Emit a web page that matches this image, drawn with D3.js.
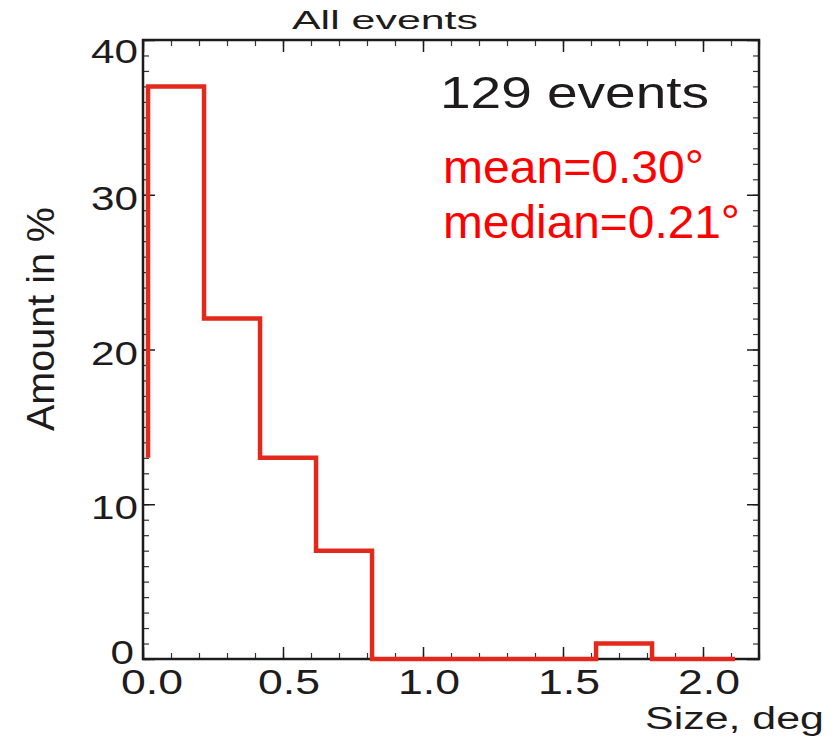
<!DOCTYPE html>
<html>
<head>
<meta charset="utf-8">
<script src="https://cdn.jsdelivr.net/npm/d3@7"></script>
<style>
  html, body { margin: 0; padding: 0; background: #fff; }
  svg { display: block; font-family: "Liberation Sans", Arial, Helvetica, sans-serif; }
</style>
</head>
<body>
<svg width="834" height="737"></svg>
<script>
// histogram values (percent of events)
const binEdges = [0.018, 0.218, 0.418, 0.618, 0.818, 1.018, 1.218, 1.418, 1.618, 1.818, 2.018, 2.114];
const binValues = [37, 22, 13, 7, 0, 0, 0, 0, 1, 0, 0];
const entryValue = 13;

const xTicks = [0, 0.5, 1.0, 1.5, 2.0];
const xTickLabels = ['0.0', '0.5', '1.0', '1.5', '2.0'];
const yTicks = [0, 10, 20, 30, 40];
const yTickLabels = ['0', '10', '20', '30', '40'];

const titleText = 'All events';
const countText = '129 events';
const statLines = ['mean=0.30\u00B0', 'median=0.21\u00B0'];

const ink = '#1e1b1c';
const red = '#e2291c';

const svg = d3.select('svg');

const x = d3.scaleLinear().domain([0, 2.2]).range([143, 759]);
const y = d3.scaleLinear().domain([0, 40]).range([659, 40]);

const minorX = d3.range(0, 23).map(i => i / 10);
const minorY = d3.range(0, 41);

// ticks, all pointing inward
const tickAxes = [
    [d3.axisBottom(x), `translate(0,${y(0)})`, minorX],
    [d3.axisTop(x), `translate(0,${y(40)})`, minorX],
];
const tickAxesY = [
    [d3.axisLeft(y), `translate(${x(0)},0)`],
    [d3.axisRight(y), `translate(${x(2.2)},0)`],
];

tickAxes.forEach(([ax, tr, vals]) => {
    const g1 = svg.append('g').attr('transform', tr)
        .call(ax.tickValues(vals).tickSize(-6).tickFormat(''));
    g1.select('.domain').remove();
    g1.selectAll('line').attr('stroke', '#333').attr('stroke-width', 1.2);
    const g2 = svg.append('g').attr('transform', tr)
        .call(ax.tickValues(xTicks).tickSize(-12).tickFormat(''));
    g2.select('.domain').remove();
    g2.selectAll('line').attr('stroke', ink).attr('stroke-width', 1.5);
});
tickAxesY.forEach(([ax, tr]) => {
    const g1 = svg.append('g').attr('transform', tr)
        .call(ax.tickValues(minorY).tickSize(-6).tickFormat(''));
    g1.select('.domain').remove();
    g1.selectAll('line').attr('stroke', '#333').attr('stroke-width', 1.2);
    const g2 = svg.append('g').attr('transform', tr)
        .call(ax.tickValues(yTicks).tickSize(-12).tickFormat(''));
    g2.select('.domain').remove();
    g2.selectAll('line').attr('stroke', ink).attr('stroke-width', 1.5);
});

// frame
svg.append('rect')
    .attr('x', x(0)).attr('y', y(40))
    .attr('width', x(2.2) - x(0)).attr('height', y(0) - y(40))
    .attr('fill', 'none').attr('stroke', ink).attr('stroke-width', 2.5);

// histogram outline
const pts = [[binEdges[0], entryValue]];
binValues.forEach((v, i) => pts.push([binEdges[i], v]));
pts.push([binEdges[binEdges.length - 1], binValues[binValues.length - 1]]);

const line = d3.line()
    .x(d => x(d[0]))
    .y(d => y(d[1]))
    .curve(d3.curveStepAfter);

svg.append('path')
    .datum(pts)
    .attr('d', line)
    .attr('fill', 'none')
    .attr('stroke', red)
    .attr('stroke-width', 4.5)
    .attr('stroke-linejoin', 'miter');

// tick labels
svg.append('g').selectAll('text')
    .data(xTicks)
    .join('text')
    .attr('x', (d, i) => x(d) + (i === 0 ? 9 : 6))
    .attr('y', 694)
    .attr('text-anchor', 'middle')
    .attr('font-size', 35)
    .attr('fill', ink)
    .attr('textLength', 62)
    .attr('lengthAdjust', 'spacingAndGlyphs')
    .text((d, i) => xTickLabels[i]);

svg.append('g').selectAll('text')
    .data(yTicks)
    .join('text')
    .attr('x', (d) => d === 0 ? 134 : 138)
    .attr('y', d => y(d) + (d === 40 ? 23 : d === 0 ? 5 : 15))
    .attr('text-anchor', 'end')
    .attr('font-size', 34)
    .attr('fill', ink)
    .attr('textLength', (d, i) => yTickLabels[i].length * 23.5)
    .attr('lengthAdjust', 'spacingAndGlyphs')
    .text((d, i) => yTickLabels[i]);

// titles
svg.append('text')
    .attr('x', 292).attr('y', 29)
    .attr('font-size', 25).attr('fill', ink)
    .attr('textLength', 186).attr('lengthAdjust', 'spacingAndGlyphs')
    .text(titleText);

svg.append('text')
    .attr('x', 645).attr('y', 729)
    .attr('font-size', 31).attr('fill', ink)
    .attr('textLength', 179).attr('lengthAdjust', 'spacingAndGlyphs')
    .text('Size, deg');

svg.append('text')
    .attr('transform', 'translate(54,319) rotate(-90)')
    .attr('text-anchor', 'middle')
    .attr('font-size', 39).attr('fill', ink)
    .attr('textLength', 224).attr('lengthAdjust', 'spacingAndGlyphs')
    .text('Amount in %');

// annotations
svg.append('text')
    .attr('x', 440).attr('y', 108)
    .attr('font-size', 44).attr('fill', ink)
    .attr('textLength', 269).attr('lengthAdjust', 'spacingAndGlyphs')
    .text(countText);

svg.append('g').selectAll('text')
    .data(statLines)
    .join('text')
    .attr('x', 443)
    .attr('y', (d, i) => 183 + i * 55)
    .attr('font-size', 46)
    .attr('fill', '#ff0000')
    .attr('textLength', (d, i) => i === 0 ? 261 : 297)
    .attr('lengthAdjust', 'spacingAndGlyphs')
    .text(d => d);
</script>
</body>
</html>
